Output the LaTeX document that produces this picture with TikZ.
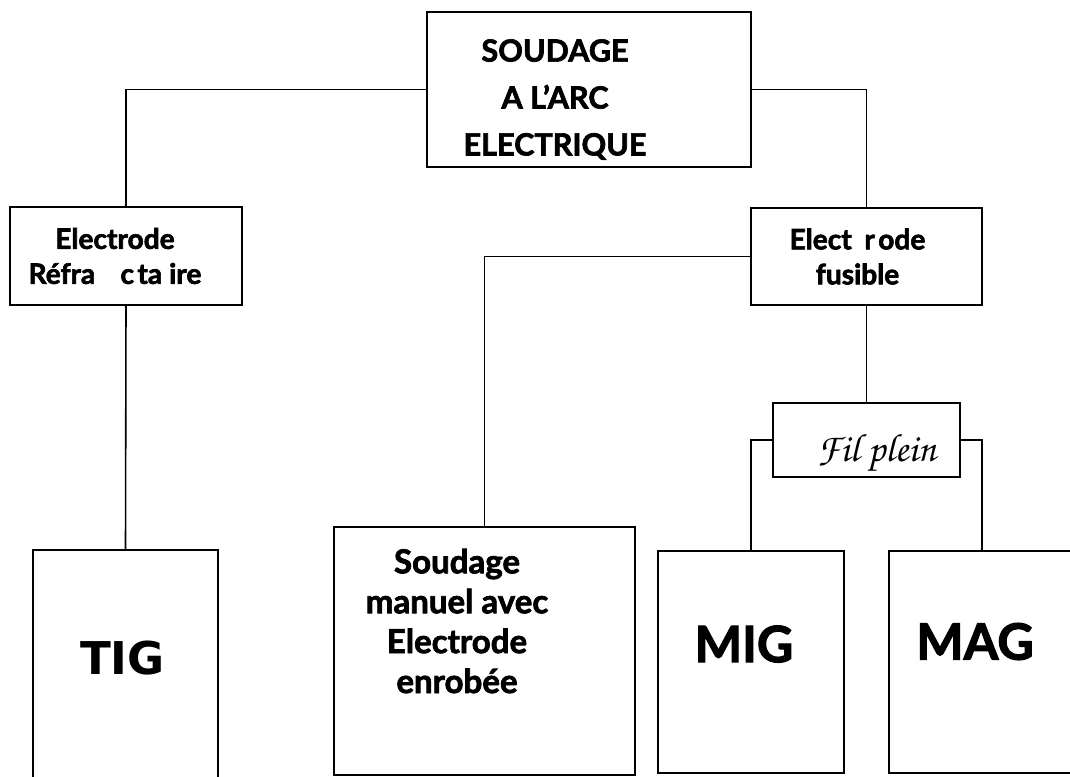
\documentclass[tikz,border=0pt]{standalone}
\usepackage{fontspec}
\setmainfont{Lato}[BoldFeatures={FakeBold=2.2}]
\newfontfamily\tigfont{DejaVu Sans}
\newcommand{\brushfont}{\fontencoding{OT1}\fontfamily{pzc}\fontseries{mb}\fontshape{it}\selectfont}
\usetikzlibrary{positioning}

\begin{document}
\begin{tikzpicture}[
    box/.style={rectangle, draw, line width=0.9pt, inner sep=0pt},
    bigtxt/.style={align=center, font=\bfseries\fontsize{17.4}{26.7}\selectfont},
    midtxt/.style={align=center, font=\bfseries\fontsize{16}{19.9}\selectfont},
    proctxt/.style={align=center, font=\bfseries\fontsize{18.8}{22.7}\selectfont},
    codetxt/.style={font=\bfseries\fontsize{28.5}{30}\selectfont},
    link/.style={line width=0.9pt}
  ]
    \useasboundingbox (0,0) rectangle (21.4,-15.52);

    \node[box, minimum width=6.48cm, minimum height=3.1cm,
      label={[bigtxt, xshift=-0.68cm, yshift=-0.2cm]center:{SOUDAGE\\A L’ARC\\ELECTRIQUE}}]
      (arc) at (11.78,-1.79) {};
    \node[box, minimum width=4.64cm, minimum height=1.96cm,
      label={[midtxt, xshift=-0.22cm]center:{Electrode\\Réfra\hspace{0.9em}c\hspace{0.12em}ta\hspace{0.25em}ire}}]
      (refr) at (2.52,-5.12) {};
    \node[box, minimum width=4.62cm, minimum height=1.94cm,
      label={[midtxt, xshift=-0.18cm]center:{Elect\hspace{0.45em}r\hspace{0.12em}ode\\fusible}}]
      (fus) at (17.33,-5.13) {};
    \node[box, minimum width=3.74cm, minimum height=1.48cm,
      label={[font=\brushfont\fontsize{22.5}{24}\selectfont, xshift=0.2cm, yshift=-0.28cm]center:Fil plein}]
      (fil) at (17.33,-8.80) {};

    % procedes
    \node[box, minimum width=3.7cm, minimum height=4.8cm,
      label={[font=\tigfont\bfseries\fontsize{25.7}{30}\selectfont, xshift=-0.06cm, yshift=0.24cm]center:TIG}]
      (tig) at (2.51,-13.40) {};
    \node[box, minimum width=6.02cm, minimum height=4.96cm,
      label={[proctxt, xshift=-0.55cm, yshift=0.6cm]center:{Soudage\\manuel avec\\Electrode\\enrobée}}]
      (sma) at (9.69,-13.02) {};
    \node[box, minimum width=3.72cm, minimum height=4.44cm,
      label={[codetxt, xshift=-0.14cm, yshift=0.36cm]center:MIG}]
      (mig) at (15.02,-13.24) {};
    \node[box, minimum width=3.72cm, minimum height=4.44cm,
      label={[codetxt, xshift=-0.14cm, yshift=0.41cm]center:MAG}]
      (mag) at (19.64,-13.24) {};

    \draw[link] (arc.west) -| (refr.north);
    \draw[link] (arc.east) -| (fus.north);
    \draw[link] (refr.south) -- (tig.north);
    \draw[link] (fus.west) -| (sma.north);
    \draw[link] (fus.south) -- (fil.north);
    \draw[link] (fil.west) -| (mig.north);
    \draw[link] (fil.east) -| (mag.north);
\end{tikzpicture}
\end{document}
